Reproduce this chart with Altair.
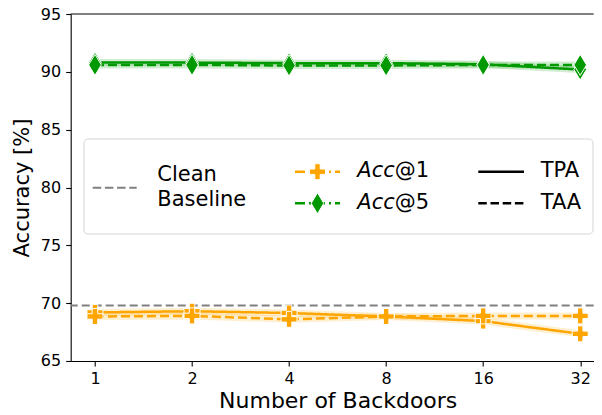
import altair as alt
import pandas as pd

# ---- data ----
backdoors = [1, 2, 4, 8, 16, 32]
acc1_tpa = [69.2, 69.3, 69.15, 68.85, 68.45, 67.35]
acc1_taa = [68.85, 68.9, 68.6, 68.85, 68.9, 68.9]
acc5_tpa = [90.8, 90.8, 90.75, 90.75, 90.65, 90.2]
acc5_taa = [90.6, 90.6, 90.55, 90.55, 90.6, 90.6]
clean_baseline = [69.8]

metrics = ["Acc@1", "Acc@5"]
modes = ["TPA", "TAA"]
colors = ["#FFA500", "#009900"]
y_ticks = [65, 70, 75, 80, 85, 90, 95]

FONT = "DejaVu Sans"
W, H = 523, 347

rows = []
for mode, s1, s5 in [("TPA", acc1_tpa, acc5_tpa), ("TAA", acc1_taa, acc5_taa)]:
    for metric, series in [("Acc@1", s1), ("Acc@5", s5)]:
        for b, v in zip(backdoors, series):
            rows.append({"backdoors": b, "value": v, "metric": metric, "mode": mode})
df = pd.DataFrame(rows)

PLUS = "M-1,-0.34H-0.34V-1H0.34V-0.34H1V0.34H0.34V1H-0.34V0.34H-1Z"
DIAMOND = "M0,-1L0.6,0L0,1L-0.6,0Z"

x_enc = alt.X(
    "backdoors:O",
    sort=backdoors,
    scale=alt.Scale(type="point", padding=0.1946, align=0.643),
    axis=alt.Axis(
        title="Number of Backdoors", labelAngle=0, labelFontSize=16, labelPadding=5,
        tickSize=5, titleFontSize=22, titleFontWeight="normal",
        titleBaseline="alphabetic", titleX=267, titleY=47, titleAlign="center",
    ),
)
y_enc = alt.Y(
    "value:Q",
    scale=alt.Scale(domain=[65, 95], nice=False, zero=False),
    axis=alt.Axis(
        title="Accuracy [%]", values=y_ticks, labelFontSize=16, labelPadding=5,
        tickSize=5, titleFontSize=21, titleFontWeight="normal", titleAngle=270,
        titleBaseline="alphabetic", titleAlign="center", titleX=-41.7, titleY=H / 2,
        grid=False,
    ),
)
color_enc = alt.Color("metric:N", scale=alt.Scale(domain=metrics, range=colors), legend=None)
dash_enc = alt.StrokeDash(
    "mode:N", scale=alt.Scale(domain=modes, range=[[1, 0], [9, 4]]), legend=None
)

base = alt.Chart(df)

band = base.mark_line(strokeWidth=7, opacity=0.18).encode(
    x=x_enc, y=y_enc, color=color_enc, detail="mode:N"
)
lines = base.mark_line(strokeWidth=2.5).encode(
    x=x_enc, y=y_enc, color=color_enc, strokeDash=dash_enc, detail="mode:N"
)
pts1 = base.transform_filter(alt.datum.metric == "Acc@1").mark_point(
    shape=PLUS, size=256, filled=True, fill=colors[0], stroke="white",
    strokeWidth=1, opacity=1,
).encode(x=x_enc, y=y_enc)
pts5 = base.transform_filter(alt.datum.metric == "Acc@5").mark_point(
    shape=DIAMOND, size=441, filled=True, fill=colors[1], stroke="white",
    strokeWidth=1, opacity=1,
).encode(x=x_enc, y=y_enc)

baseline = alt.Chart(pd.DataFrame({"value": clean_baseline})).mark_rule(
    color="#808080", strokeWidth=2, strokeDash=[8, 4]
).encode(y=alt.Y("value:Q"))

one = pd.DataFrame({"k": [0]})
top_spine = alt.Chart(one).mark_rule(color="black", strokeWidth=1.1).encode(
    x=alt.value(0), x2=alt.value(W), y=alt.value(0)
)

# ---- legend (drawn by hand, matplotlib style) ----
leg_box = alt.Chart(one).mark_rect(
    cornerRadius=4, fill="white", fillOpacity=0.85, stroke="#d4d4d4", strokeWidth=1
).encode(x=alt.value(13.3), x2=alt.value(522.3), y=alt.value(125), y2=alt.value(220))


def leg_line(x1, x2, y, color, dash, width=2.5):
    return alt.Chart(one).mark_rule(color=color, strokeWidth=width, strokeDash=dash).encode(
        x=alt.value(x1), x2=alt.value(x2), y=alt.value(y)
    )


def leg_text(x, y, txt, italic=False):
    return alt.Chart(one).mark_text(
        align="left", baseline="alphabetic", fontSize=21, font=FONT,
        fontStyle="italic" if italic else "normal", color="black",
    ).encode(x=alt.value(x), y=alt.value(y), text=alt.value(txt))


def leg_point(x, y, shape, size, color):
    return alt.Chart(one).mark_point(
        shape=shape, size=size, filled=True, fill=color, stroke="white",
        strokeWidth=1, opacity=1,
    ).encode(x=alt.value(x), y=alt.value(y))


legend_layers = [
    leg_box,
    leg_line(22, 66, 173.7, "#808080", [8.5, 3.7], 2),
    leg_text(86.6, 167, "Clean"),
    leg_text(86.6, 191.7, "Baseline"),
    leg_line(224.3, 269.3, 157.7, colors[0], [10, 4, 2, 4]),
    leg_point(246.8, 157.7, PLUS, 256, colors[0]),
    leg_line(224.3, 269.3, 189.3, colors[1], [10, 4, 2, 4]),
    leg_point(246.8, 189.3, DIAMOND, 441, colors[1]),
    leg_text(286.6, 163.3, metrics[0][:3], italic=True),
    leg_text(324, 163.3, metrics[0][3:]),
    leg_text(286.6, 195.3, metrics[1][:3], italic=True),
    leg_text(324, 195.3, metrics[1][3:]),
    leg_line(407.6, 453.3, 157.7, "black", [1, 0]),
    leg_line(407.6, 453.3, 189.3, "black", [8.5, 3.7]),
    leg_text(470, 163.3, modes[0]),
    leg_text(470, 195.3, modes[1]),
]

chart = alt.layer(
    band, lines, baseline, pts1, pts5, top_spine, *legend_layers
).properties(
    width=W, height=H,
    autosize=alt.AutoSizeParams(type="none"),
    padding={"left": 62.7, "top": 6, "right": 0, "bottom": 53},
).configure(
    font=FONT,
).configure_view(
    stroke=None,
).configure_axis(
    domainColor="black", domainWidth=1.1, tickColor="black", tickWidth=1.1,
    labelColor="black", titleColor="black", labelFont=FONT, titleFont=FONT,
)

chart.save("out.html", embed_options={"renderer": "svg", "actions": False})
